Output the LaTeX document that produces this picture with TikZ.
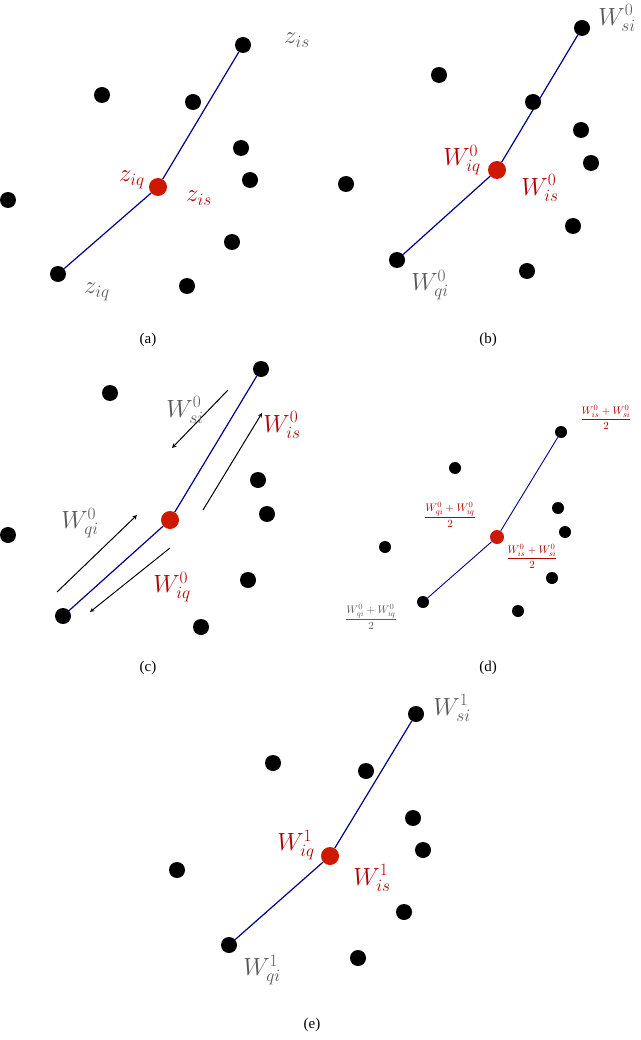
\documentclass[tikz,border=0pt]{standalone}
\usepackage{fontspec}
\setmainfont{Liberation Serif}
\begin{document}
\begin{tikzpicture}[x=1pt,y=-1pt,
 dot/.style={circle,fill=black,inner sep=0,minimum size=16pt},
 sdot/.style={circle,fill=black,inner sep=0,minimum size=12pt},
 rdot/.style={circle,fill=red!75!orange!80!black,inner sep=0,minimum size=18pt},
 srdot/.style={circle,fill=red!75!orange!80!black,inner sep=0,minimum size=14pt},
 ln/.style={draw=blue!55!black,line width=1.2pt},
 gl/.style={text=black!65,font=\fontsize{26}{30}\selectfont},
 rl/.style={text=red!70!black,font=\fontsize{26}{30}\selectfont},
 gf/.style={text=black!65,font=\fontsize{11}{13}\selectfont},
 rf/.style={text=red!70!black,font=\fontsize{11}{13}\selectfont},
 captxt/.style={font=\fontsize{15}{18}\selectfont},
 ar/.style={-stealth,line width=1pt}]
\useasboundingbox (0,0) rectangle (640,1040);
% (a)
\node[dot] (a1) at (243,45) {}; \node[rdot] (a2) at (158,187) {}; \node[dot] (a3) at (58,274) {};
\draw[ln] (a1)--(a2)--(a3);
\foreach \p [count=\i] in {(102,95),(193,102),(241,148),(250,180),(8,200),(232,242),(187,286)} \node[dot] (ad\i) at \p {};
\node[gl] (la1) at (297,40) {$z_{is}$};
\node[rl] (la2) at (132,180) {$z_{iq}$};
\node[rl] (la3) at (199,198) {$z_{is}$};
\node[gl] (la4) at (97,292) {$z_{iq}$};
\node[captxt] (ca) at (148,340) {(a)};
% (b)
\node[dot] (b1) at (582,28) {}; \node[rdot] (b2) at (497,170) {}; \node[dot] (b3) at (397,260) {};
\draw[ln] (b1)--(b2)--(b3);
\foreach \p [count=\i] in {(439,75),(533,102),(581,130),(591,163),(346,184),(573,226),(527,271)} \node[dot] (bd\i) at \p {};
\node[gl] (lb1) at (617,18) {$W^0_{si}$};
\node[rl] (lb2) at (462,160) {$W^0_{iq}$};
\node[rl] (lb3) at (540,188) {$W^0_{is}$};
\node[gl] (lb4) at (430,285) {$W^0_{qi}$};
\node[captxt] (cb) at (488,340) {(b)};
% (c)
\node[dot] (c1) at (261,369) {}; \node[rdot] (c2) at (170,520) {}; \node[dot] (c3) at (63,616) {};
\draw[ln] (c1)--(c2)--(c3);
\foreach \p [count=\i] in {(110,393),(258,480),(267,514),(8,535),(248,580),(201,627)} \node[dot] (cd\i) at \p {};
\coordinate (p1) at (228,390); \coordinate (q1) at (172,448);
\coordinate (p2) at (203,510); \coordinate (q2) at (262,413);
\coordinate (p3) at (57,592); \coordinate (q3) at (137,515);
\coordinate (p4) at (170,548); \coordinate (q4) at (90,612);
\draw[ar] (p1)--(q1); \draw[ar] (p2)--(q2); \draw[ar] (p3)--(q3); \draw[ar] (p4)--(q4);
\node[gl] (lc1) at (185,410) {$W^0_{si}$};
\node[rl] (lc2) at (282,425) {$W^0_{is}$};
\node[gl] (lc3) at (80,523) {$W^0_{qi}$};
\node[rl] (lc4) at (172,587) {$W^0_{iq}$};
\node[captxt] (cc) at (148,668) {(c)};
% (d)
\node[sdot] (d1) at (561,432) {}; \node[srdot] (d2) at (497,537) {}; \node[sdot] (d3) at (423,602) {};
\draw[ln,line width=0.9pt] (d1)--(d2)--(d3);
\foreach \p [count=\i] in {(455,468),(558,508),(565,532),(385,547),(552,578),(518,611)} \node[sdot] (dd\i) at \p {};
\node[rf] (ld1) at (606,417) {$\displaystyle\frac{W^0_{is}+W^0_{si}}{2}$};
\node[rf] (ld2) at (450,515) {$\displaystyle\frac{W^0_{qi}+W^0_{iq}}{2}$};
\node[rf] (ld3) at (532,556) {$\displaystyle\frac{W^0_{is}+W^0_{si}}{2}$};
\node[gf] (ld4) at (371,617) {$\displaystyle\frac{W^0_{qi}+W^0_{iq}}{2}$};
\node[captxt] (cd) at (488,668) {(d)};
% (e)
\node[dot] (e1) at (416,714) {}; \node[rdot] (e2) at (330,856) {}; \node[dot] (e3) at (229,945) {};
\draw[ln] (e1)--(e2)--(e3);
\foreach \p [count=\i] in {(273,763),(366,771),(413,818),(423,850),(177,870),(404,912),(358,958)} \node[dot] (ed\i) at \p {};
\node[gl] (le1) at (452,708) {$W^1_{si}$};
\node[rl] (le2) at (296,845) {$W^1_{iq}$};
\node[rl] (le3) at (372,878) {$W^1_{is}$};
\node[gl] (le4) at (262,970) {$W^1_{qi}$};
\node[captxt] (ce) at (312,1025) {(e)};
\end{tikzpicture}
\end{document}
